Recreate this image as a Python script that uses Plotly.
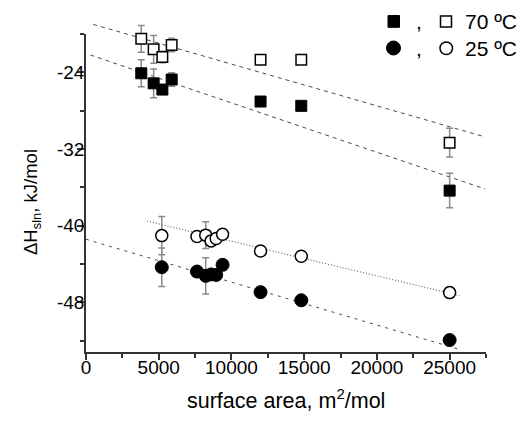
import plotly.graph_objects as go

# ---- data ----
sq_x = [3800, 4650, 5250, 5890, 12000, 14800, 25000]
sq70_open_y = [-20.5, -21.6, -22.4, -21.15, -22.7, -22.7, -31.35]
sq70_open_err = [1.4, 1.45, 0.6, 0.7, 0, 0.4, 1.5]
sq70_fill_y = [-24.1, -25.15, -25.8, -24.75, -27.05, -27.5, -36.35]
sq70_fill_err = [1.4, 1.5, 0, 0.7, 0, 0, 1.8]

ci_x = [5210, 7630, 8230, 8600, 8950, 9390, 12000, 14800, 25000]
ci25_open_y = [-41.05, -41.15, -41.0, -41.6, -41.35, -40.9, -42.65, -43.2, -47.0]
ci25_open_err = [2.0, 0, 1.4, 0, 0, 0, 0, 0, 0]
ci25_fill_y = [-44.35, -44.8, -45.25, -45.1, -45.15, -44.1, -46.95, -47.8, -51.95]
ci25_fill_err = [2.0, 0, 1.9, 0, 0, 0, 0, 0, 0]

# linear fit lines (end points)
fit70_open_x = [500, 27450]
fit70_open_y = [-19.0, -30.75]
fit70_fill_x = [300, 27450]
fit70_fill_y = [-22.19, -36.19]
fit25_open_x = [4200, 25700]
fit25_open_y = [-39.53, -47.32]
fit25_fill_x = [0, 25700]
fit25_fill_y = [-41.43, -52.94]

x_ticks = [0, 5000, 10000, 15000, 20000, 25000]
x_ticktext = ["0", "5000", "10000", "15000", "20000", "25000"]
x_minor = [2500, 7500, 12500, 17500, 22500, 27500]
y_ticks = [-48, -40, -32, -24]
y_ticktext = ["-48", "-40", "-32", "-24"]
y_minor = [-52, -44, -36, -28, -20]

legend_labels = ["70 ºC", "25 ºC"]

# ---- layout geometry ----
W, H = 525, 422
ML, MR, MT, MB = 86, 39, 20, 70
PW, PH = W - ML - MR, H - MT - MB
AX_TOP_PX = 34
d = (H - MB - AX_TOP_PX) / PH
ylo, yhi = -53.2, -20
y2hi = ylo + (yhi - ylo) / d
xlo, xhi = 0, 27500

FONT = "Liberation Sans, Arial, sans-serif"
AX = "#333333"
ERR = "#8a8a8a"
LINE = "#4a4a4a"

fig = go.Figure()

# empty trace so the visible (x, y) subplot with the axes exists
fig.add_trace(go.Scatter(x=[], y=[], mode="markers", xaxis="x", yaxis="y",
                         showlegend=False, hoverinfo="skip"))

def line(x, y, dash):
    fig.add_trace(go.Scatter(x=x, y=y, mode="lines", yaxis="y2",
                             line=dict(color=LINE, width=1, dash=dash),
                             hoverinfo="skip", showlegend=False))

line(fit70_open_x, fit70_open_y, "4px,4px")
line(fit70_fill_x, fit70_fill_y, "4px,4px")
line(fit25_open_x, fit25_open_y, "1px,2px")
line(fit25_fill_x, fit25_fill_y, "3px,5px")

def pts(x, y, err, symbol, size, filled):
    fig.add_trace(go.Scatter(
        x=x, y=y, mode="markers", yaxis="y2", showlegend=False,
        error_y=dict(type="data", array=err, color=ERR, thickness=1.5, width=3.5),
        marker=dict(symbol=symbol, size=size,
                    color="black" if filled else "white",
                    line=dict(color="black", width=1 if filled else 1.5))))

pts(sq_x, sq70_fill_y, sq70_fill_err, "square", 11, True)
pts(sq_x, sq70_open_y, sq70_open_err, "square", 10.5, False)
pts(ci_x, ci25_fill_y, ci25_fill_err, "circle", 13, True)
pts(ci_x, ci25_open_y, ci25_open_err, "circle", 12, False)

def fx(px):
    return (px - ML) / PW

def fy(py):
    return (H - MB - py) / PH

shapes = [
    dict(type="rect", xref="paper", yref="paper", x0=fx(388), x1=fx(399.5), y0=fy(27.3), y1=fy(15.5),
         fillcolor="black", line=dict(color="black", width=1)),
    dict(type="rect", xref="paper", yref="paper", x0=fx(440.5), x1=fx(451.5), y0=fy(27), y1=fy(16),
         fillcolor="white", line=dict(color="black", width=1.5)),
    dict(type="circle", xref="paper", yref="paper", x0=fx(386.5), x1=fx(400.5), y0=fy(55), y1=fy(41),
         fillcolor="black", line=dict(color="black", width=1)),
    dict(type="circle", xref="paper", yref="paper", x0=fx(440), x1=fx(452.5), y0=fy(54.5), y1=fy(42),
         fillcolor="white", line=dict(color="black", width=1.5)),
]

ann = []
for i, (lab, cy) in enumerate(zip(legend_labels, [21.5, 48.5])):
    ann.append(dict(xref="paper", yref="paper", x=fx(418.5), y=fy(cy), text=",", showarrow=False,
                    xanchor="center", yanchor="middle", font=dict(size=21, family=FONT, color="black")))
    ann.append(dict(xref="paper", yref="paper", x=fx(463), y=fy(cy), text=lab, showarrow=False,
                    xanchor="left", yanchor="middle", font=dict(size=21, family=FONT, color="black")))

ann.append(dict(xref="paper", yref="paper", x=fx(32), y=fy(202), text="ΔH<sub>sln</sub>, kJ/mol",
                textangle=-90, showarrow=False, xanchor="center", yanchor="middle",
                font=dict(size=18.5, family=FONT, color="black")))
ann.append(dict(xref="paper", yref="paper", x=fx(285.5), y=fy(399), text="surface area, m<sup>2</sup>/mol",
                showarrow=False, xanchor="center", yanchor="middle",
                font=dict(size=21.5, family=FONT, color="black")))

fig.update_layout(
    width=W, height=H, margin=dict(l=ML, r=MR, t=MT, b=MB, pad=0),
    paper_bgcolor="white", plot_bgcolor="rgba(0,0,0,0)",
    showlegend=False, shapes=shapes, annotations=ann,
    xaxis=dict(domain=[0, 1], range=[xlo, xhi], anchor="y", showline=True, linecolor=AX, linewidth=1.5,
               ticks="outside", ticklen=6, tickwidth=1.5, tickcolor=AX,
               tickvals=x_ticks, ticktext=x_ticktext, ticklabelstandoff=-9,
               minor=dict(tickvals=x_minor, ticks="outside", ticklen=4, tickwidth=1.5, tickcolor=AX),
               tickfont=dict(size=19, family=FONT, color="black"),
               showgrid=False, zeroline=False, fixedrange=True),
    yaxis=dict(domain=[0, d], range=[ylo, yhi], anchor="x", showline=True, linecolor=AX, linewidth=1.5,
               ticks="outside", ticklen=7, tickwidth=1.5, tickcolor=AX,
               tickvals=y_ticks, ticktext=y_ticktext, ticklabelstandoff=-11,
               minor=dict(tickvals=y_minor, ticks="outside", ticklen=4, tickwidth=1.5, tickcolor=AX),
               tickfont=dict(size=19, family=FONT, color="black"),
               showgrid=False, zeroline=False, fixedrange=True),
    yaxis2=dict(domain=[0, 1], range=[ylo, y2hi], anchor="x", visible=False,
                showgrid=False, zeroline=False, fixedrange=True),
)

fig.write_html("out.html", config={"displayModeBar": False},
               post_script="document.body.style.margin='0';document.body.style.padding='0';")
